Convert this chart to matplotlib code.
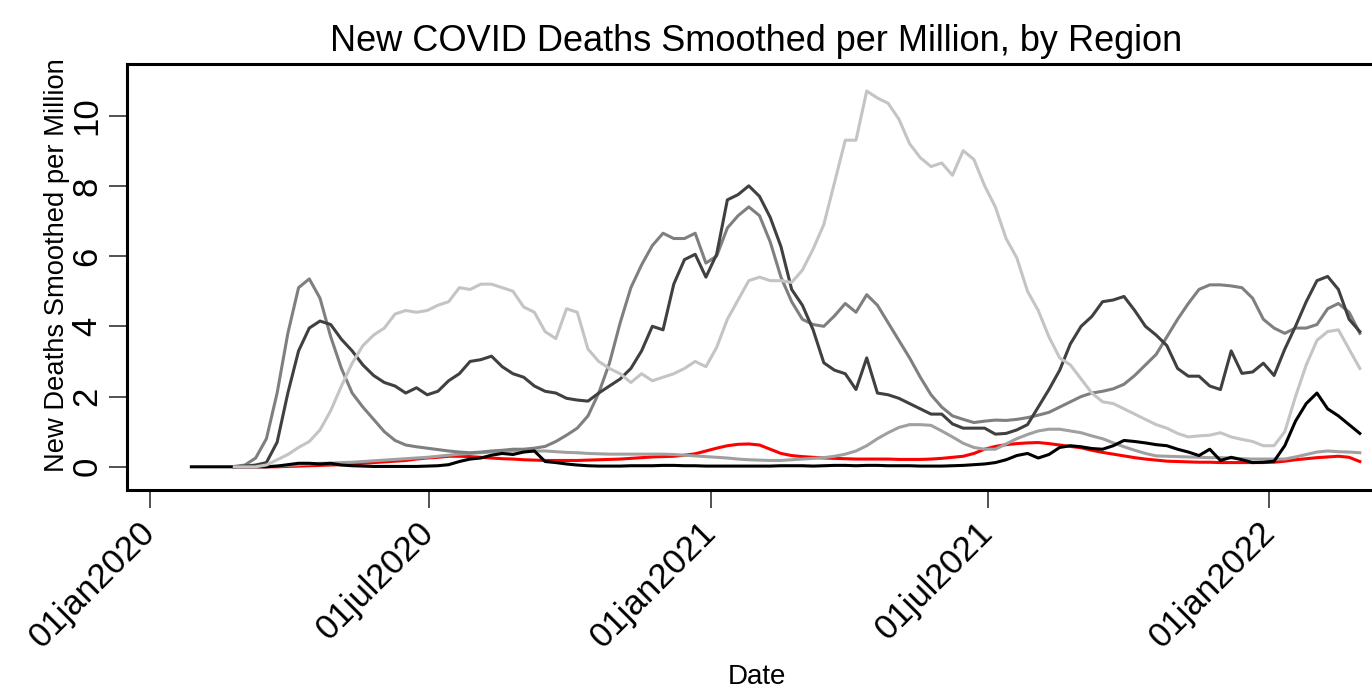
import matplotlib
matplotlib.use("Agg")
import matplotlib.pyplot as plt
import numpy as np

plt.rcParams['font.family'] = ['Liberation Sans', 'DejaVu Sans']

nan = np.nan

# weekly readings, first week = 28 Jan 2020
start = np.datetime64('2020-01-28')
n_weeks = 110

africa = [nan, nan, nan, nan,
          0, 0, 0, 0, 0, 0.01, 0.02, 0.03, 0.04, 0.05,
          0.06, 0.08, 0.1, 0.12, 0.14, 0.16, 0.18, 0.22, 0.25, 0.27,
          0.3, 0.3, 0.29, 0.27, 0.25, 0.23, 0.22, 0.2, 0.19, 0.18,
          0.18, 0.18, 0.18, 0.19, 0.2, 0.21, 0.22, 0.24, 0.26, 0.28,
          0.29, 0.3, 0.33, 0.37, 0.45, 0.53, 0.6, 0.64, 0.65, 0.62,
          0.5, 0.38, 0.32, 0.29, 0.27, 0.25, 0.24, 0.23, 0.22, 0.22,
          0.22, 0.22, 0.21, 0.21, 0.21, 0.22, 0.24, 0.27, 0.3, 0.38,
          0.5, 0.58, 0.63, 0.66, 0.68, 0.69, 0.66, 0.62, 0.58, 0.54,
          0.47, 0.41, 0.36, 0.31, 0.26, 0.22, 0.19, 0.16, 0.15, 0.14,
          0.13, 0.13, 0.12, 0.12, 0.12, 0.12, 0.12, 0.13, 0.16, 0.2,
          0.23, 0.26, 0.28, 0.3, 0.27, 0.15]

asia = [nan, nan, nan, nan,
        0, 0, 0, 0, 0.02, 0.04, 0.06, 0.08, 0.1, 0.1,
        0.12, 0.13, 0.15, 0.17, 0.19, 0.21, 0.23, 0.25, 0.27, 0.3,
        0.33, 0.36, 0.38, 0.4, 0.42, 0.44, 0.45, 0.45, 0.45, 0.45,
        0.43, 0.41, 0.4, 0.38, 0.37, 0.36, 0.36, 0.36, 0.36, 0.36,
        0.36, 0.35, 0.33, 0.31, 0.29, 0.27, 0.25, 0.22, 0.2, 0.19,
        0.18, 0.18, 0.2, 0.22, 0.24, 0.26, 0.3, 0.36, 0.45, 0.6,
        0.8, 0.97, 1.12, 1.2, 1.2, 1.18, 1.02, 0.85, 0.67, 0.55,
        0.5, 0.5, 0.65, 0.8, 0.92, 1.02, 1.07, 1.07, 1.02, 0.97,
        0.88, 0.8, 0.68, 0.57, 0.47, 0.38, 0.31, 0.3, 0.29, 0.28,
        0.27, 0.26, 0.26, 0.25, 0.23, 0.22, 0.22, 0.22, 0.22, 0.28,
        0.35, 0.42, 0.45, 0.43, 0.42, 0.4]

europe = [nan, nan, nan, nan,
          0.01, 0.05, 0.25, 0.8, 2.1, 3.8, 5.1, 5.35, 4.8, 3.7,
          2.8, 2.1, 1.7, 1.35, 1.0, 0.75, 0.62, 0.57, 0.53, 0.49,
          0.45, 0.42, 0.4, 0.42, 0.45, 0.47, 0.5, 0.5, 0.53, 0.58,
          0.72, 0.9, 1.1, 1.45, 2.1, 2.95, 4.1, 5.1, 5.75, 6.3,
          6.65, 6.5, 6.5, 6.65, 5.8, 6.0, 6.8, 7.15, 7.4, 7.15,
          6.4, 5.4, 4.7, 4.2, 4.05, 4.0, 4.3, 4.65, 4.4, 4.9,
          4.6, 4.1, 3.6, 3.1, 2.55, 2.05, 1.7, 1.45, 1.35, 1.26,
          1.3, 1.33, 1.32, 1.35, 1.4, 1.47, 1.55, 1.7, 1.85, 2.0,
          2.1, 2.15, 2.22, 2.35, 2.6, 2.9, 3.2, 3.7, 4.2, 4.65,
          5.05, 5.18, 5.18, 5.15, 5.1, 4.8, 4.2, 3.95, 3.8, 3.95,
          3.95, 4.05, 4.5, 4.65, 4.4, 3.8]

north_america = [nan, nan, nan, nan,
                 0, 0.02, 0.05, 0.12, 0.7, 2.1, 3.3, 3.95, 4.15, 4.05,
                 3.63, 3.3, 2.9, 2.6, 2.4, 2.3, 2.1, 2.25, 2.05, 2.15,
                 2.45, 2.65, 3.0, 3.05, 3.15, 2.85, 2.65, 2.55, 2.3, 2.15,
                 2.1, 1.95, 1.9, 1.87, 2.1, 2.3, 2.5, 2.8, 3.3, 4.0,
                 3.9, 5.2, 5.9, 6.05, 5.4, 6.05, 7.6, 7.75, 8.0, 7.7,
                 7.1, 6.27, 5.05, 4.6, 3.9, 2.96, 2.75, 2.65, 2.2, 3.1,
                 2.1, 2.05, 1.95, 1.8, 1.65, 1.5, 1.5, 1.22, 1.1, 1.1,
                 1.1, 0.93, 0.95, 1.05, 1.2, 1.7, 2.2, 2.75, 3.5, 4.0,
                 4.28, 4.7, 4.75, 4.85, 4.45, 4.0, 3.75, 3.45, 2.8, 2.58,
                 2.58, 2.3, 2.2, 3.3, 2.66, 2.7, 2.95, 2.6, 3.35, 4.0,
                 4.7, 5.3, 5.42, 5.05, 4.2, 3.85]

oceania = [0, 0, 0, 0, 0, 0, 0, 0,
           0.02, 0.06, 0.1, 0.1, 0.08, 0.1, 0.05, 0.03, 0.02, 0.01,
           0.01, 0.01, 0.01, 0.01, 0.02, 0.03, 0.06, 0.15, 0.22, 0.25,
           0.33, 0.38, 0.35, 0.42, 0.45, 0.15, 0.12, 0.08, 0.05, 0.03,
           0.02, 0.02, 0.02, 0.03, 0.03, 0.03, 0.04, 0.04, 0.03, 0.03,
           0.02, 0.02, 0.02, 0.02, 0.02, 0.02, 0.02, 0.03, 0.03, 0.03,
           0.02, 0.03, 0.04, 0.04, 0.03, 0.04, 0.04, 0.03, 0.03, 0.03,
           0.02, 0.02, 0.02, 0.03, 0.04, 0.06, 0.08, 0.12, 0.2, 0.32,
           0.38, 0.25, 0.35, 0.55, 0.6, 0.57, 0.52, 0.5, 0.6, 0.75,
           0.72, 0.68, 0.63, 0.6, 0.5, 0.42, 0.32, 0.5, 0.18, 0.27,
           0.2, 0.12, 0.13, 0.16, 0.6, 1.3, 1.8, 2.1, 1.65, 1.45, 1.2, 0.95]

south_america = [nan, nan, nan, nan,
                 0, 0, 0, 0.05, 0.2, 0.35, 0.55, 0.72, 1.05, 1.6,
                 2.3, 2.95, 3.45, 3.75, 3.95, 4.35, 4.45, 4.4, 4.45, 4.6,
                 4.7, 5.1, 5.05, 5.2, 5.2, 5.1, 5.0, 4.55, 4.4, 3.85,
                 3.65, 4.5, 4.4, 3.35, 3.0, 2.8, 2.65, 2.4, 2.65, 2.45,
                 2.55, 2.65, 2.8, 3.0, 2.85, 3.4, 4.2, 4.75, 5.3, 5.4,
                 5.3, 5.3, 5.25, 5.6, 6.2, 6.9, 8.1, 9.3, 9.3, 10.7,
                 10.5, 10.35, 9.9, 9.2, 8.8, 8.55, 8.65, 8.3, 9.0, 8.75,
                 8.0, 7.4, 6.5, 5.95, 5.0, 4.45, 3.7, 3.1, 2.9, 2.5,
                 2.1, 1.85, 1.8, 1.65, 1.5, 1.35, 1.2, 1.1, 0.95, 0.85,
                 0.88, 0.9, 0.97, 0.85, 0.78, 0.72, 0.6, 0.6, 1.0, 2.0,
                 2.9, 3.6, 3.85, 3.9, 3.35, 2.8]

tick_dates = ['2020-01-01', '2020-07-01', '2021-01-01', '2021-07-01', '2022-01-01']
tick_labels = ['01jan2020', '01jul2020', '01jan2021', '01jul2021', '01jan2022']

dates = start + np.arange(n_weeks) * np.timedelta64(7, 'D')

fig = plt.figure(figsize=(13.72, 6.9), dpi=100)
ax = fig.add_axes([0.0926, 0.2899, 0.9175, 0.6174])

series = [
    (africa, 'red'),
    (asia, '#a0a0a0'),
    (europe, '#7f7f7f'),
    (north_america, '#404040'),
    (oceania, 'black'),
    (south_america, '#c4c4c4'),
]
for vals, col in series:
    ax.plot(dates, vals, color=col, lw=2.2)

ax.set_xlim(np.datetime64('2019-12-17'), np.datetime64('2022-03-18'))
ax.set_ylim(-0.66, 11.47)

ax.set_yticks([0, 2, 4, 6, 8, 10])
ax.set_yticklabels(['0', '2', '4', '6', '8', '10'], rotation=90, va='center', fontsize=25)
ax.set_xticks([np.datetime64(d) for d in tick_dates])
ax.set_xticklabels(tick_labels, rotation=45, ha='right', va='center',
                   rotation_mode='anchor', fontsize=25)

ax.tick_params(axis='both', direction='out', length=13, width=1.2, color='#333333')
ax.tick_params(axis='y', pad=4)
ax.tick_params(axis='x', pad=14)
for sp in ax.spines.values():
    sp.set_linewidth(2.2)

ax.set_title('New COVID Deaths Smoothed per Million, by Region', fontsize=26, pad=9)
ax.set_ylabel('New Deaths Smoothed per Million', fontsize=19.7)
ax.yaxis.set_label_coords(-0.0453, 0.528)
ax.set_xlabel('Date', fontsize=20, labelpad=7)

fig.savefig('out.png', dpi=100)
